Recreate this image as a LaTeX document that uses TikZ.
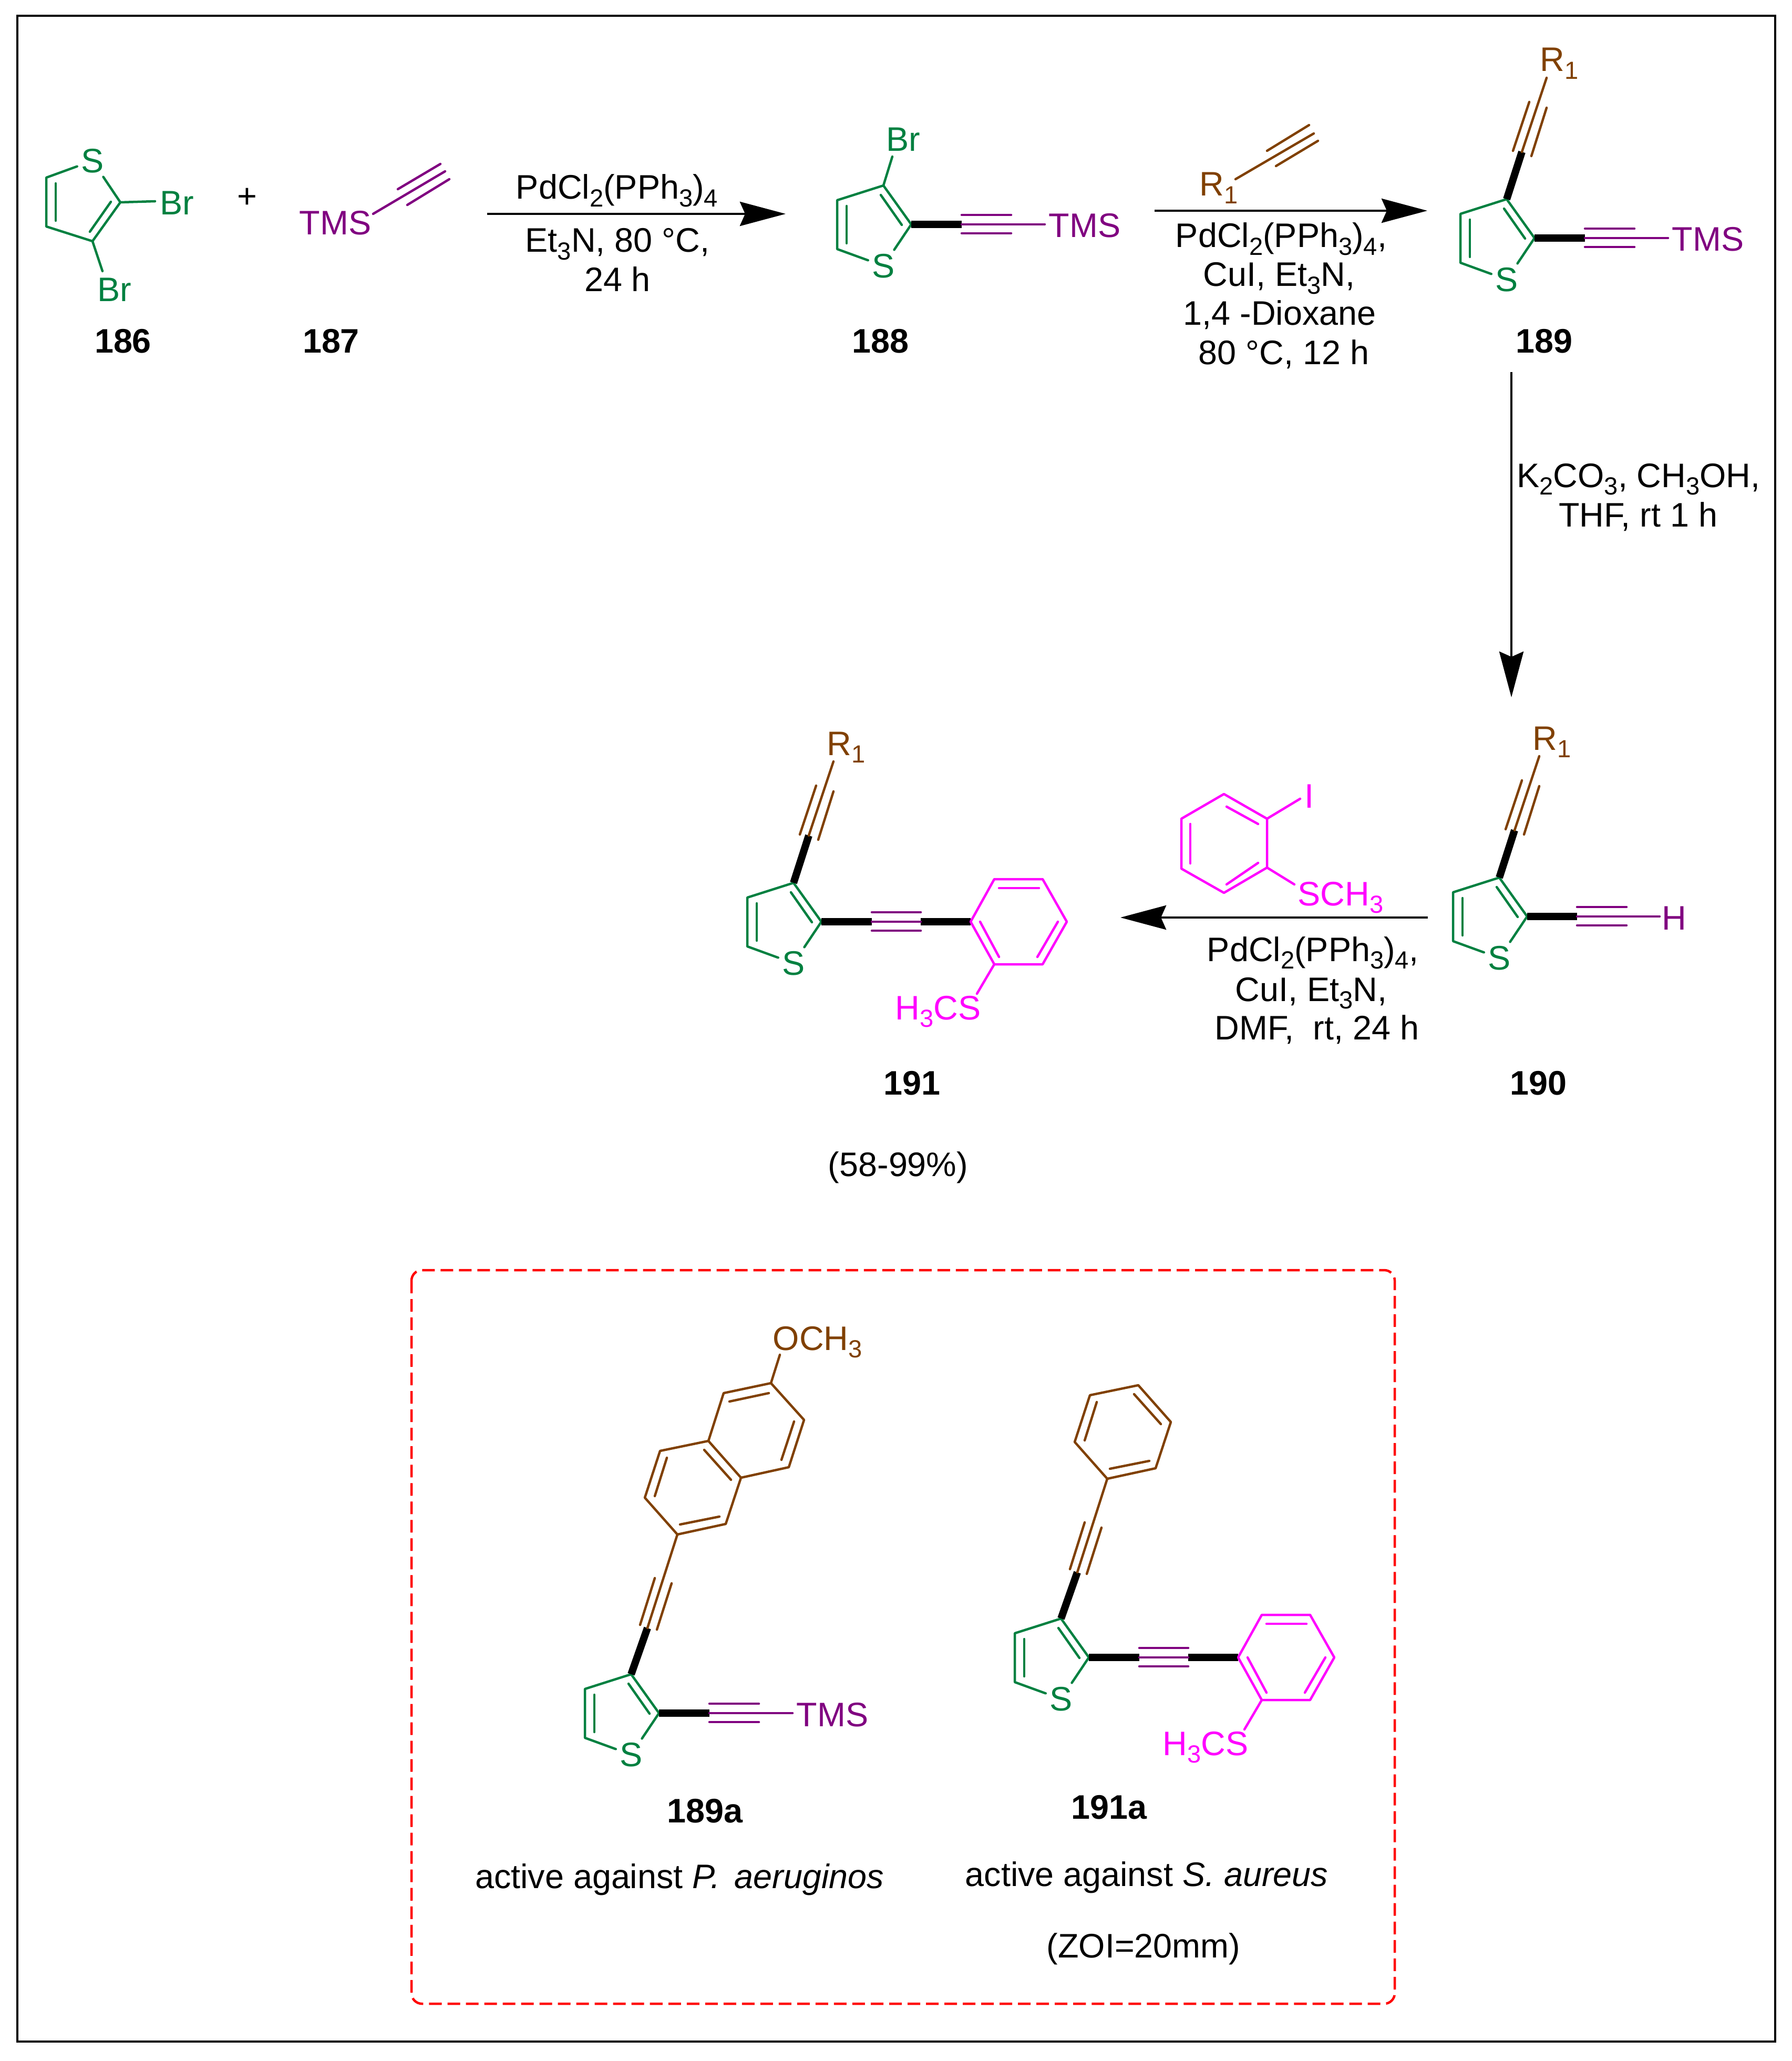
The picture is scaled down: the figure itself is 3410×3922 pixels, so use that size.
\documentclass[tikz,border=0pt]{standalone}
\usepackage{fontspec}
\setmainfont{Liberation Sans}
\usetikzlibrary{arrows.meta}

\definecolor{thgreen}{HTML}{008040}
\definecolor{ynpurple}{HTML}{800080}
\definecolor{rbrown}{HTML}{804000}
\definecolor{armagenta}{HTML}{FF00FF}

\tikzset{
  bond/.style={line width=4.5*0.2845pt,line cap=round,line join=round},
  boldbond/.style={line width=14*0.2845pt},
  lbl/.style={inner sep=0pt,anchor=base},
  lblw/.style={inner sep=0pt,anchor=base west},
  lble/.style={inner sep=0pt,anchor=base east},
  atom/.style={inner sep=2pt,text=thgreen},
  rxnarrow/.style={line width=4.5*0.2845pt,-{Stealth[length=.87cm,width=.46cm,inset=.1cm]}},
}
\newcommand{\ssub}[1]{\raisebox{-4pt}{\fontsize{13.4}{15}\selectfont #1}}
\newcommand{\pdcat}{PdCl\ssub{2}(PPh\ssub{3})\ssub{4}}

% thiophene ring, origin at C3
\newcommand{\thioring}[2]{
\begin{scope}[#2]
\coordinate (#1c3) at (0,0);
\coordinate (#1c4) at (-88,28);
\coordinate (#1c5) at (-88,121);
\coordinate (#1c2) at (53,74);
\node[atom] (#1s) at (0,153) {S};
\draw[bond,thgreen] (#1s) -- (#1c5) -- (#1c4) -- (#1c3) -- (#1c2) -- (#1s);
\draw[bond,thgreen] (-70,39) -- (-70,110);
\draw[bond,thgreen] (-5,18) -- (35,75);
\end{scope}
}
% C2 alkyne with TMS
\newcommand{\tmsarm}[2]{
\begin{scope}[#2]
\coordinate (#1b) at (149,74);
\coordinate (#1y) at (307,74);
\node[lblw,text=ynpurple] (#1tms) at (314,99) {TMS};
\draw[boldbond] (#1c2) -- (#1b);
\draw[bond,ynpurple] (#1b) -- (#1y);
\draw[bond,ynpurple] (149,56) -- (243,56);
\draw[bond,ynpurple] (149,91) -- (243,91);
\end{scope}
}
% C3 alkyne with R1
\newcommand{\rarm}[2]{
\begin{scope}[#2]
\coordinate (#1b) at (29,-90);
\coordinate (#1y) at (76,-231);
\node[lblw,text=rbrown] (#1r) at (63,-243) {R\ssub{1}};
\draw[boldbond] (#1c3) -- (#1b);
\draw[bond,rbrown] (#1b) -- (#1y);
\draw[bond,rbrown] (12,-92) -- (43,-185);
\draw[bond,rbrown] (47,-82) -- (76,-174);
\end{scope}
}
% C2 alkyne, aryl and SCH3
\newcommand{\ararm}[2]{
\begin{scope}[#2]
\coordinate (#1b) at (149,74);
\coordinate (#1d) at (242,74);
\coordinate (#1a) at (337,74);
\coordinate (#1f) at (382,155);
\coordinate (#1e) at (349,211);
\node[lble,text=armagenta] (#1sme) at (357,260) {H\ssub{3}CS};
\draw[boldbond] (#1c2) -- (#1b);
\draw[boldbond] (#1d) -- (#1a);
\draw[bond,ynpurple] (#1b) -- (#1d);
\draw[bond,ynpurple] (149,56) -- (242,56);
\draw[bond,ynpurple] (149,91) -- (242,91);
\draw[bond,armagenta] (#1a) -- (382,-7) -- (474,-7) -- (520,74) -- (474,155) -- (#1f) -- cycle;
\draw[bond,armagenta] (391,10) -- (467,10);
\draw[bond,armagenta] (503,74) -- (464,141);
\draw[bond,armagenta] (355,74) -- (391,141);
\draw[bond,armagenta] (#1f) -- (#1e);
\end{scope}
}
% C3 alkyne with brown ring, used in the boxed compounds
\newcommand{\ringarm}[2]{
\begin{scope}[#2]
\coordinate (#1b) at (31,-88);
\coordinate (#1p) at (88,-266);
\draw[boldbond] (#1c3) -- (#1b);
\draw[bond,rbrown] (#1b) -- (#1p);
\draw[bond,rbrown] (17,-94) -- (45,-183);
\draw[bond,rbrown] (49,-85) -- (77,-173);
\end{scope}
\begin{scope}[shift={(#1p)}]
\coordinate (#1p1) at (92,-20);
\coordinate (#1p2) at (121,-108);
\coordinate (#1p3) at (59,-178);
\coordinate (#1p4) at (-33,-159);
\coordinate (#1p5) at (-62,-70);
\draw[bond,rbrown] (#1p) -- (#1p1) -- (#1p2) -- (#1p3) -- (#1p4) -- (#1p5) -- cycle;
\draw[bond,rbrown] (5,-19) -- (80,-34);
\draw[bond,rbrown] (-20,-146) -- (-43,-73);
\draw[bond,rbrown] (51,-161) -- (102,-104);
\end{scope}
}

\begin{document}
\begin{tikzpicture}[x=.01cm,y=-.01cm,font=\fontsize{18.4}{21}\selectfont]
\useasboundingbox (0,0) rectangle (3410,3922);
\draw[line width=4.5*0.2845pt] (33,30) rectangle (3378,3885);

% 186
\thioring{a}{shift={(176,459)},yscale=-1}
\coordinate (abrb) at (195,516);
\coordinate (abrr) at (295,383);
\node[lblw,text=thgreen] (abr1) at (304,409) {Br};
\node[lblw,text=thgreen] (abr2) at (185,574) {Br};
\draw[bond,thgreen] (ac2) -- (abrr);
\draw[bond,thgreen] (ac3) -- (abrb);
\node[lbl] (n186) at (234,672) {\textbf{186}};
\node[lbl] (plus) at (470,396) {+};

% 187
\coordinate (ta) at (710,407);
\coordinate (tb) at (847,326);
\node[lblw,text=ynpurple] (ttms) at (569,447) {TMS};
\draw[bond,ynpurple] (ta) -- (tb);
\draw[bond,ynpurple] (757,360) -- (838,312);
\draw[bond,ynpurple] (775,390) -- (855,341);
\node[lbl] (n187) at (630,672) {\textbf{187}};

% first step
\coordinate (s1a) at (927,407);
\coordinate (s1b) at (1495,407);
\draw[rxnarrow] (s1a) -- (s1b);
\node[lbl] (s1t) at (1174,379) {\pdcat};
\node[lbl] (s1u) at (1175,480) {Et\ssub{3}N, 80 °C,};
\node[lbl] (s1v) at (1175,555) {24 h};

% 188
\thioring{b}{shift={(1681,353)}}
\tmsarm{b}{shift={(1681,353)}}
\coordinate (bbrb) at (1698,298);
\node[lblw,text=thgreen] (bbr) at (1686,288) {Br};
\draw[bond,thgreen] (bc3) -- (bbrb);
\node[lbl] (n188) at (1675,672) {\textbf{188}};

% second step
\coordinate (s2a) at (2197,401);
\coordinate (s2b) at (2716,401);
\draw[rxnarrow] (s2a) -- (s2b);
\coordinate (ra) at (2351,341);
\coordinate (rb) at (2500,254);
\node[lblw,text=rbrown] (rr) at (2282,373) {R\ssub{1}};
\draw[bond,rbrown] (ra) -- (rb);
\draw[bond,rbrown] (2411,287) -- (2491,238);
\draw[bond,rbrown] (2428,316) -- (2508,268);
\node[lbl] (s2t) at (2438,471) {\pdcat,};
\node[lbl] (s2u) at (2434,545) {CuI, Et\ssub{3}N,};
\node[lbl] (s2v) at (2435,619) {1,4 -Dioxane};
\node[lbl] (s2w) at (2443,694) {80 °C, 12 h};

% 189
\thioring{c}{shift={(2867,379)}}
\tmsarm{c}{shift={(2867,379)}}
\rarm{c}{shift={(2867,379)}}
\node[lbl] (n189) at (2938,672) {\textbf{189}};

% third step
\coordinate (s3a) at (2876,708);
\coordinate (s3b) at (2876,1327);
\draw[rxnarrow] (s3a) -- (s3b);
\node[lbl] (s3t) at (3118,927) {K\ssub{2}CO\ssub{3}, CH\ssub{3}OH,};
\node[lbl] (s3u) at (3117,1002) {THF, rt 1 h};

% 190
\thioring{d}{shift={(2853,1670)}}
\rarm{d}{shift={(2853,1670)}}
\coordinate (db) at (3001,1744);
\coordinate (dy) at (3158,1744);
\node[lblw,text=ynpurple] (dh) at (3162,1769) {H};
\draw[boldbond] (dc2) -- (db);
\draw[bond,ynpurple] (db) -- (dy);
\draw[bond,ynpurple] (3001,1726) -- (3095,1726);
\draw[bond,ynpurple] (3001,1761) -- (3095,1761);
\node[lbl] (n190) at (2927,2083) {\textbf{190}};

% fourth step
\coordinate (s4a) at (2717,1746);
\coordinate (s4b) at (2132,1746);
\draw[rxnarrow] (s4a) -- (s4b);
\coordinate (ei) at (2474,1520);
\coordinate (es) at (2463,1683);
\coordinate (e1) at (2411,1558);
\coordinate (e2) at (2411,1651);
\node[lblw,text=armagenta] (eil) at (2482,1537) {I};
\node[lblw,text=armagenta] (esme) at (2469,1723) {SCH\ssub{3}};
\draw[bond,armagenta] (2329,1511) -- (e1) -- (e2) -- (2329,1699) -- (2248,1653) -- (2248,1558) -- cycle;
\draw[bond,armagenta] (2334,1535) -- (2394,1568);
\draw[bond,armagenta] (2394,1642) -- (2334,1683);
\draw[bond,armagenta] (2265,1568) -- (2265,1643);
\draw[bond,armagenta] (e1) -- (ei);
\draw[bond,armagenta] (e2) -- (es);
\node[lbl] (s4t) at (2498,1829) {\pdcat,};
\node[lbl] (s4u) at (2495,1905) {CuI, Et\ssub{3}N,};
\node[lbl] (s4v) at (2506,1978) {DMF,\ \ rt, 24 h};

% 191
\thioring{f}{shift={(1510,1680)}}
\rarm{f}{shift={(1510,1680)}}
\ararm{f}{shift={(1510,1680)}}
\node[lbl] (n191) at (1735,2083) {\textbf{191}};
\node[lbl] (yield) at (1709,2238) {(58-99\%)};

% box
\draw[red,line width=4.5*0.2845pt,dash pattern=on .24cm off .11cm,rounded corners=.2cm] (783,2417) rectangle (2654,3813);

% 189a
\thioring{g}{shift={(1201,3186)}}
\tmsarm{g}{shift={(1201,3186)}}
\ringarm{g}{shift={(1201,3186)}}
\coordinate (gq1) at (1501,2792);
\coordinate (gq2) at (1530,2702);
\coordinate (gq3) at (1467,2632);
\coordinate (gq4) at (1377,2651);
\coordinate (gom) at (1484,2578);
\node[lblw,text=rbrown] (gome) at (1470,2569) {OCH\ssub{3}};
\draw[bond,rbrown] (gp2) -- (gq1) -- (gq2) -- (gq3) -- (gq4) -- (gp3);
\draw[bond,rbrown] (gq3) -- (gom);
\draw[bond,rbrown] (1511,2705) -- (1487,2778);
\draw[bond,rbrown] (1388,2667) -- (1463,2651);
\node[lbl] (n189a) at (1342,3468) {\textbf{189a}};
\node[lbl] (ta1) at (1293,3593) {active against \textit{P.\hspace{.42em}aeruginos}};

% 191a
\thioring{h}{shift={(2019,3080)}}
\ararm{h}{shift={(2019,3080)}}
\ringarm{h}{shift={(2019,3080)}}
\node[lbl] (n191a) at (2111,3461) {\textbf{191a}};
\node[lbl] (ta2) at (2182,3589) {active against \textit{S. aureus}};
\node[lbl] (ta3) at (2176,3725) {(ZOI=20mm)};
\end{tikzpicture}
\end{document}
